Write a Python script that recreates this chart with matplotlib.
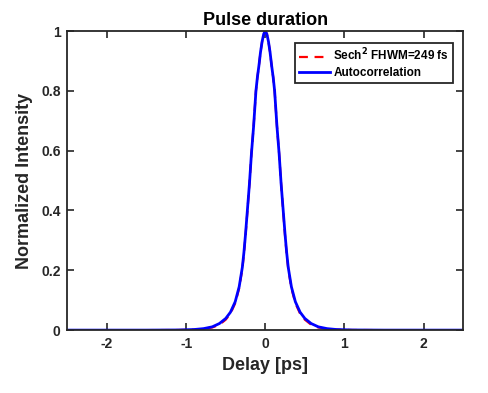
import matplotlib
matplotlib.use("Agg")
import matplotlib.pyplot as plt

plt.rcParams['font.family'] = ['Liberation Sans', 'DejaVu Sans']
plt.rcParams['font.weight'] = 'bold'
plt.rcParams['axes.unicode_minus'] = False

# Delay [ps] and normalized intensity (right half, mirrored)
delay_half = [0, 0.02, 0.04, 0.06, 0.08, 0.1, 0.118, 0.148, 0.175, 0.2, 0.225, 0.25, 0.27,
              0.29, 0.33, 0.38, 0.44, 0.5, 0.58, 0.67, 0.78, 0.9, 1.1, 1.5, 2.0, 2.5]
autocorr_half = [1.0, 0.99, 0.965, 0.93, 0.885, 0.845, 0.80, 0.68, 0.59, 0.49, 0.405, 0.32, 0.26,
                 0.21, 0.145, 0.095, 0.06, 0.039, 0.022, 0.011, 0.005, 0.002, 0.0005, 0, 0, 0]
sech2_half = [1.0, 0.99, 0.965, 0.93, 0.885, 0.845, 0.80, 0.68, 0.59, 0.49, 0.40, 0.315, 0.255,
              0.205, 0.14, 0.09, 0.055, 0.035, 0.018, 0.009, 0.004, 0.0015, 0.0003, 0, 0, 0]

delay = [-d for d in delay_half[::-1]] + delay_half[1:]
autocorr = autocorr_half[::-1] + autocorr_half[1:]
sech2 = sech2_half[::-1] + sech2_half[1:]

fig = plt.figure(figsize=(4.89, 3.93), dpi=100)
ax = fig.add_axes([0.138, 0.160, 0.809, 0.761])

ax.plot(delay, sech2, '--', color='red', lw=1.6, dashes=(4, 3),
        label='Sech$^\\mathbf{2}$ FHWM=249 fs')
ax.plot(delay, autocorr, '-', color='blue', lw=2.0, label='Autocorrelation')

ax.set_xlim(-2.5, 2.5)
ax.set_ylim(0, 1)
ax.set_xticks([-2, -1, 0, 1, 2])
ax.set_yticks([0, 0.2, 0.4, 0.6, 0.8, 1])
ax.set_yticklabels(['0', '0.2', '0.4', '0.6', '0.8', '1'])
ax.tick_params(direction='in', top=True, right=True, length=5, width=1.2,
               labelsize=10, colors='#262626', pad=5)
for sp in ax.spines.values():
    sp.set_linewidth(1.3)
    sp.set_color('#262626')

ax.set_xlabel('Delay [ps]', fontsize=13, fontweight='bold', color='#262626')
ax.set_ylabel('Normalized Intensity', fontsize=13, fontweight='bold', color='#262626',
              labelpad=6)
ax.set_title('Pulse duration', fontsize=13, fontweight='bold', pad=4)

leg = ax.legend(loc='upper right', bbox_to_anchor=(0.975, 0.96), fontsize=8.5,
                frameon=True, fancybox=False, edgecolor='#262626', borderaxespad=0,
                handlelength=2.6, handletextpad=0.3, borderpad=0.35, labelspacing=0.25)
leg.get_frame().set_linewidth(1.3)
leg.get_frame().set_alpha(1)

fig.savefig('out.png', dpi=100)
